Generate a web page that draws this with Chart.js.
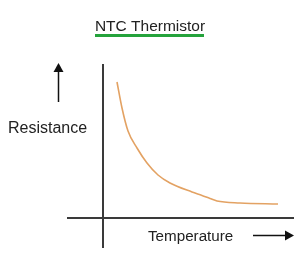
<!DOCTYPE html>
<html>
<head>
<meta charset="utf-8">
<script src="https://cdn.jsdelivr.net/npm/chart.js@4"></script>
<style>
  body { margin: 0; background: #fff; }
  #wrap { width: 304px; height: 259px; }
</style>
</head>
<body>
<div id="wrap"><canvas id="myChart" width="304" height="259"></canvas></div>
<script>
'use strict'

// values (arbitrary units, axes cross at 0)
let temperature = [14, 19, 25, 34, 44, 55, 67, 89, 99, 107, 114, 137, 175];
let resistance = [136, 110, 87, 70, 55, 43, 35, 26, 22.5, 19.5, 17, 15, 14];
let chartTitle = 'NTC Thermistor';
let xLabel = 'Temperature';
let yLabel = 'Resistance';

let points = [];
for (let i = 0; i < temperature.length; i++) {
    points.push({x: temperature[i], y: resistance[i]});
}

let textFont = '"Liberation Sans", Arial, sans-serif';

// title, underline, axis names and the two arrows
let sketchDecor = {
    id: 'sketchDecor',
    afterDraw(chart) {
        let ctx = chart.ctx;
        ctx.save();
        ctx.fillStyle = '#222';
        ctx.textBaseline = 'alphabetic';

        ctx.font = '15.5px ' + textFont;
        ctx.textAlign = 'center';
        ctx.fillText(chartTitle, 150, 30.5);

        ctx.fillStyle = '#25a33c';
        ctx.fillRect(95, 34, 109, 3);

        ctx.fillStyle = '#222';
        ctx.textAlign = 'left';
        ctx.font = '16px ' + textFont;
        ctx.fillText(yLabel, 8, 132.5);
        ctx.font = '15.2px ' + textFont;
        ctx.fillText(xLabel, 148, 240.5);

        ctx.strokeStyle = '#111';
        ctx.fillStyle = '#111';
        ctx.lineWidth = 1.5;
        // up arrow
        ctx.beginPath();
        ctx.moveTo(58.5, 102);
        ctx.lineTo(58.5, 70);
        ctx.stroke();
        ctx.beginPath();
        ctx.moveTo(58.5, 63);
        ctx.lineTo(63.5, 72);
        ctx.lineTo(53.5, 72);
        ctx.closePath();
        ctx.fill();
        // right arrow
        ctx.beginPath();
        ctx.moveTo(253, 235.5);
        ctx.lineTo(287, 235.5);
        ctx.stroke();
        ctx.beginPath();
        ctx.moveTo(294, 235.5);
        ctx.lineTo(285, 230.5);
        ctx.lineTo(285, 240.5);
        ctx.closePath();
        ctx.fill();
        ctx.restore();
    }
};

let ctx = document.getElementById('myChart').getContext('2d');
let chart = new Chart(ctx, {
    type: 'line',
    data: {
        datasets: [{
            label: chartTitle,
            data: points,
            borderColor: '#e3a263',
            borderWidth: 1.6,
            pointRadius: 0,
            cubicInterpolationMode: 'monotone',
            fill: false
        }]
    },
    options: {
        responsive: false,
        animation: false,
        events: [],
        layout: {
            padding: {left: 68, right: 11, top: 65, bottom: 12}
        },
        plugins: {
            legend: {display: false},
            tooltip: {enabled: false}
        },
        scales: {
            x: {
                type: 'linear',
                position: {y: 0},
                min: -35,
                max: 190,
                grid: {display: false},
                ticks: {display: false},
                border: {display: true, color: '#3a3a3a', width: 2}
            },
            y: {
                type: 'linear',
                position: {x: 0},
                min: -29,
                max: 153,
                grid: {display: false},
                ticks: {display: false},
                border: {display: true, color: '#3a3a3a', width: 2}
            }
        }
    },
    plugins: [sketchDecor]
});
</script>
</body>
</html>
